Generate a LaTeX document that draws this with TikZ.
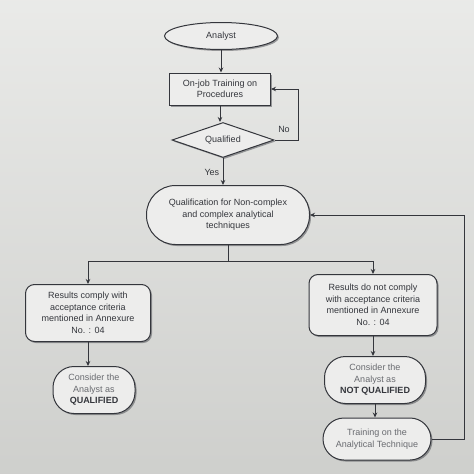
\documentclass[tikz,border=0pt]{standalone}
\usepackage{fontspec}
\setmainfont{Liberation Sans}
\usetikzlibrary{shapes.geometric,arrows.meta,shadows}
\definecolor{paper}{RGB}{222,223,220}
\definecolor{ink}{RGB}{52,54,60}
\definecolor{faint}{RGB}{105,107,112}
\tikzset{
  box/.style={draw=ink, fill=paper!55!white, line width=1pt, align=center, inner sep=2pt,
    text=ink, font=\fontsize{9}{11.5}\selectfont,
    drop shadow={shadow xshift=1.5pt, shadow yshift=-1.5pt, fill=ink, opacity=0.45}},
  flow/.style={-{Stealth[length=5pt,width=4.5pt]}, draw=ink, line width=0.9pt},
  line/.style={draw=ink, line width=0.9pt},
  tag/.style={text=ink, font=\fontsize{9}{11}\selectfont},
}

\begin{document}
\begin{tikzpicture}[x=1pt, y=-1pt]

% Page
\shade[top color=paper!65!white, bottom color=paper!93!black] (0,0) rectangle (474,474);
\useasboundingbox (0,0) rectangle (474,474);

% Upper column
\node[box, ellipse, minimum width=113pt, minimum height=27pt] (analyst) at (221,36) {Analyst};
\node[box, rectangle, minimum width=101pt, minimum height=32pt] (ojt) at (220,89)
  {On-job Training on\\Procedures};
\node[box, diamond, aspect=2.9, inner sep=0pt, minimum width=102pt, minimum height=35pt]
  (qualified) at (223,140) {Qualified};
\node[box, rounded corners=29pt, minimum width=163pt, minimum height=59pt] (qfy) at (228,215)
  {Qualification for Non-complex\\and complex analytical\\techniques};

\draw[flow] (analyst) -- (analyst |- ojt.north);
\draw[flow] (ojt) -- (ojt |- qualified.north);
\draw[flow] (qualified.south) -- node[tag, left, pos=0.55] {Yes} (qualified.south |- qfy.north);

% No loop
\coordinate (noturn) at (298,140);
\draw[flow] (qualified.east) -- (noturn) |- (ojt.east);
\node[tag] (no) at (284,129) {No};

% Branches
\node[box, rounded corners=9pt, minimum width=125pt, minimum height=57pt] (pass) at (88,313)
  {Results comply with\\acceptance criteria\\mentioned in Annexure\\No. : 04};
\node[box, rounded corners=9pt, minimum width=128pt, minimum height=61pt] (fail) at (373,305)
  {Results do not comply\\with acceptance criteria\\mentioned in Annexure\\No. : 04};

\coordinate (split) at (228,261);
\draw[line] (qfy.south) -- (split);
\draw[flow] (split) -| (pass.north);
\draw[flow] (split) -| (fail.north);

% Outcomes
\node[box, rounded corners=21pt, minimum width=82pt, minimum height=47pt, text=faint] (ok) at (94,390)
  {Consider the\\Analyst as\\{\bfseries\color{ink}QUALIFIED}};
\node[box, rounded corners=21pt, minimum width=101pt, minimum height=47pt, text=faint] (notok) at (375,380)
  {Consider the\\Analyst as\\{\bfseries\color{ink}NOT QUALIFIED}};
\node[box, rounded corners=21pt, minimum width=108pt, minimum height=42pt, text=faint] (train) at (377,439)
  {Training on the\\Analytical Technique};

\draw[flow] (pass) -- (pass |- ok.north);
\draw[flow] (fail) -- (fail |- notok.north);
\draw[flow] (notok) -- (notok |- train.north);

% Feedback to qualification
\coordinate (backturn) at (464,439);
\draw[flow] (train.east) -- (backturn) |- (qfy.east);

\end{tikzpicture}
\end{document}
